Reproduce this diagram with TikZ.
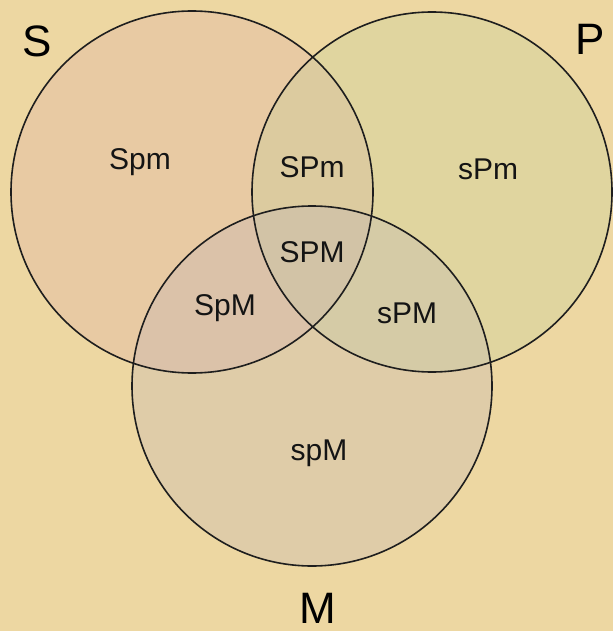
\documentclass[tikz,border=0pt]{standalone}
\usepackage{fontspec}
\setmainfont{Liberation Sans}
\definecolor{bg}{HTML}{EDD7A2}
\definecolor{sfill}{HTML}{D9A0A8}
\definecolor{pfill}{HTML}{C0D098}
\definecolor{mfill}{HTML}{B0A8C0}
\definecolor{edge}{HTML}{1E1E1E}
\tikzset{
  setcircle/.style={draw=edge, line width=1.6pt},
  region/.style={anchor=base, font=\fontsize{30}{30}\selectfont, text=black!92, inner sep=0pt},
  setname/.style={anchor=base, font=\fontsize{44}{44}\selectfont, text=black, inner sep=0pt}
}
\begin{document}
\begin{tikzpicture}[x=1pt,y=-1pt]
\fill[bg] (0,0) rectangle (613,631);
\useasboundingbox (0,0) rectangle (613,631);
\coordinate (cS) at (192,192);
\coordinate (cP) at (432,192);
\coordinate (cM) at (312,386);
\fill[sfill, fill opacity=0.22] (cS) circle[radius=181];
\fill[pfill, fill opacity=0.28] (cP) circle[radius=180];
\fill[mfill, fill opacity=0.22] (cM) circle[radius=180];
\draw[setcircle] (cS) circle[radius=181];
\draw[setcircle] (cP) circle[radius=180];
\draw[setcircle] (cM) circle[radius=180];
\node[setname] (S) at (37,57) {S};
\node[setname] (P) at (590,55) {P};
\node[setname] (M) at (318,623) {M};
\node[region] (Spm) at (140,170) {Spm};
\node[region] (SPm) at (312,178) {SPm};
\node[region] (sPm) at (488,179) {sPm};
\node[region] (SPM) at (312,262) {SPM};
\node[region] (SpM) at (225,315) {SpM};
\node[region] (sPM) at (407,323) {sPM};
\node[region] (spM) at (319,460) {spM};
\end{tikzpicture}
\end{document}
